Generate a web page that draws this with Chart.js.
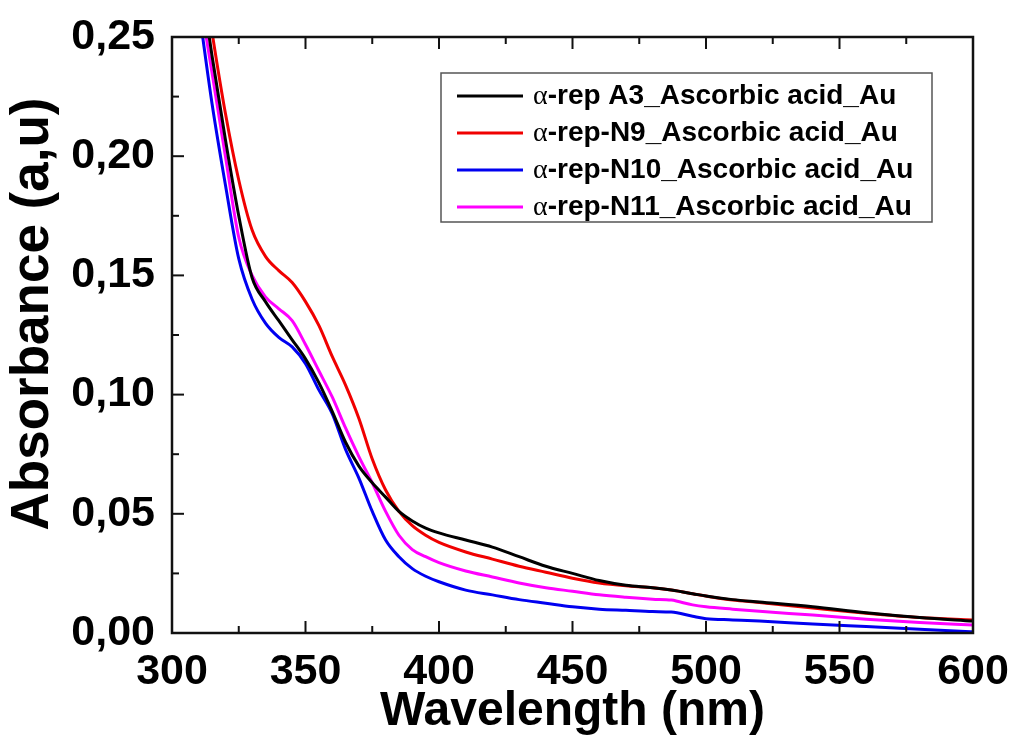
<!DOCTYPE html>
<html lang="en">
<head>
  <meta charset="UTF-8">
  <title>Absorbance spectra</title>
  <script src="https://cdn.jsdelivr.net/npm/chart.js@4.4.1/dist/chart.umd.min.js"></script>
  <style>
    body {
      margin: 0;
      background-color: #ffffff;
    }
    canvas {
      display: block;
    }
  </style>
</head>
<body>
  <canvas id="spectra" width="1014" height="743"></canvas>

  <script>
    // wavelengths (nm) shared by all four spectra
    const wavelengths = [305, 310, 315, 320, 325, 330, 335, 340, 345, 350, 355, 360, 365, 370, 375, 380, 385, 390, 395, 400,
                         410, 420, 430, 440, 450, 460, 470, 480, 487, 495, 500, 510, 520, 540, 560, 580, 600];

    const seriesNames = [
      'α-rep A3_Ascorbic acid_Au',
      'α-rep-N9_Ascorbic acid_Au',
      'α-rep-N10_Ascorbic acid_Au',
      'α-rep-N11_Ascorbic acid_Au'
    ];
    const seriesColors = ['#000000', '#f00000', '#0000f0', '#ff00ff'];

    const absA3  = [0.32, 0.28, 0.242, 0.207, 0.175, 0.149, 0.139, 0.131, 0.123, 0.115, 0.105, 0.093, 0.080, 0.070, 0.063, 0.057, 0.051, 0.047, 0.044, 0.042,
                    0.039, 0.036, 0.032, 0.028, 0.025, 0.022, 0.020, 0.019, 0.018, 0.0165, 0.0155, 0.014, 0.013, 0.011, 0.0085, 0.0065, 0.005];
    const absN9  = [0.33, 0.29, 0.252, 0.218, 0.190, 0.169, 0.158, 0.152, 0.147, 0.139, 0.129, 0.116, 0.104, 0.090, 0.073, 0.060, 0.051, 0.045, 0.041, 0.038,
                    0.034, 0.031, 0.028, 0.0255, 0.023, 0.021, 0.0198, 0.019, 0.018, 0.0165, 0.0155, 0.0138, 0.0128, 0.0105, 0.0083, 0.0065, 0.0055];
    const absN10 = [0.30, 0.262, 0.222, 0.188, 0.157, 0.140, 0.130, 0.124, 0.120, 0.113, 0.102, 0.092, 0.077, 0.065, 0.051, 0.039, 0.032, 0.027, 0.0238, 0.0215,
                    0.018, 0.016, 0.014, 0.0125, 0.011, 0.010, 0.0095, 0.009, 0.0088, 0.007, 0.006, 0.0055, 0.005, 0.0038, 0.0027, 0.0016, 0.0005];
    const absN11 = [0.31, 0.27, 0.235, 0.200, 0.166, 0.150, 0.141, 0.136, 0.131, 0.121, 0.110, 0.099, 0.086, 0.074, 0.063, 0.051, 0.041, 0.035, 0.032, 0.0295,
                    0.026, 0.0235, 0.021, 0.019, 0.0175, 0.016, 0.015, 0.0142, 0.0138, 0.0118, 0.011, 0.010, 0.0091, 0.0075, 0.0058, 0.0044, 0.0034];

    const allSeries = [absA3, absN9, absN10, absN11];
    const yTitle = 'Absorbance (a,u)';

    const FONT = '"Liberation Sans", Arial, sans-serif';

    // frame + inward ticks like the origin plot
    const frameTicks = {
      id: 'frameTicks',
      afterDatasetsDraw(chart) {
        const { ctx, chartArea: a, scales } = chart;
        ctx.save();
        ctx.strokeStyle = '#111';
        ctx.lineWidth = 2.5;
        ctx.strokeRect(a.left, a.top, a.right - a.left, a.bottom - a.top);
        ctx.lineWidth = 2;
        for (let v = 325; v < 600; v += 25) {
          const px = scales.x.getPixelForValue(v);
          const len = v % 50 === 0 ? 12 : 7;
          ctx.beginPath();
          ctx.moveTo(px, a.bottom); ctx.lineTo(px, a.bottom - len);
          ctx.moveTo(px, a.top); ctx.lineTo(px, a.top + len);
          ctx.stroke();
        }
        for (let i = 1; i < 10; i++) {
          const v = i * 0.025;
          const py = scales.y.getPixelForValue(v);
          const len = i % 2 === 0 ? 12 : 7;
          ctx.beginPath();
          ctx.moveTo(a.left, py); ctx.lineTo(a.left + len, py);
          ctx.stroke();
        }
        // y axis title, drawn by hand so it can sit a bit above centre
        ctx.translate(33, 314);
        ctx.rotate(-Math.PI / 2);
        ctx.fillStyle = '#000';
        ctx.font = 'bold 53px ' + FONT;
        ctx.textAlign = 'center';
        ctx.textBaseline = 'middle';
        ctx.fillText(yTitle, 0, 0);
        ctx.restore();
      }
    };

    // legend box inside the plot
    const boxLegend = {
      id: 'boxLegend',
      afterDraw(chart) {
        const ctx = chart.ctx;
        const box = { x: 441, y: 73, w: 491, h: 149 };
        ctx.save();
        ctx.strokeStyle = '#555';
        ctx.lineWidth = 1.5;
        ctx.strokeRect(box.x, box.y, box.w, box.h);
        chart.data.datasets.forEach((ds, i) => {
          const y = 96 + i * 37;
          ctx.strokeStyle = ds.borderColor;
          ctx.lineWidth = 3;
          ctx.beginPath();
          ctx.moveTo(457, y); ctx.lineTo(523, y);
          ctx.stroke();
          ctx.fillStyle = '#000';
          ctx.textBaseline = 'middle';
          ctx.textAlign = 'left';
          const alpha = ds.label.charAt(0);
          const rest = ds.label.slice(1);
          ctx.font = '28px "Liberation Serif", serif';
          ctx.fillText(alpha, 533, y + 1);
          const aw = ctx.measureText(alpha).width;
          ctx.font = 'bold 28px ' + FONT;
          ctx.fillText(rest, 533 + aw, y);
        });
        ctx.restore();
      }
    };

    const ctx = document.getElementById('spectra').getContext('2d');

    new Chart(ctx, {
      type: 'line',
      data: {
        datasets: allSeries.map((vals, i) => ({
          label: seriesNames[i],
          data: wavelengths.map((w, j) => ({ x: w, y: vals[j] })),
          borderColor: seriesColors[i],
          backgroundColor: seriesColors[i],
          borderWidth: 3,
          pointRadius: 0,
          cubicInterpolationMode: 'monotone',
          fill: false
        }))
      },
      options: {
        responsive: false,
        animation: false,
        devicePixelRatio: 1,
        layout: { padding: { top: 37, right: 41, left: 0, bottom: 0 } },
        plugins: {
          legend: { display: false },
          tooltip: { enabled: false }
        },
        scales: {
          x: {
            type: 'linear',
            min: 300,
            max: 600,
            grid: { display: false, drawTicks: false },
            border: { display: false },
            ticks: {
              stepSize: 50,
              padding: 13,
              color: '#000',
              font: { family: FONT, size: 43, weight: 'bold' },
              maxRotation: 0
            },
            title: {
              display: true,
              text: 'Wavelength (nm)',
              color: '#000',
              font: { family: FONT, size: 48, weight: 'bold' },
              padding: { top: 0, bottom: 2 }
            },
            afterFit(scale) {
              scale.height = 110;
              scale.paddingLeft = 0;
              scale.paddingRight = 0;
            }
          },
          y: {
            min: 0,
            max: 0.25,
            grid: { display: false, drawTicks: false },
            border: { display: false },
            ticks: {
              stepSize: 0.05,
              padding: 17,
              color: '#000',
              font: { family: FONT, size: 43, weight: 'bold' },
              callback: (v) => v.toFixed(2).replace('.', ',')
            },
            afterFit(scale) {
              scale.width = 172;
              scale.paddingTop = 0;
              scale.paddingBottom = 0;
            }
          }
        }
      },
      plugins: [frameTicks, boxLegend]
    });
  </script>
</body>
</html>
